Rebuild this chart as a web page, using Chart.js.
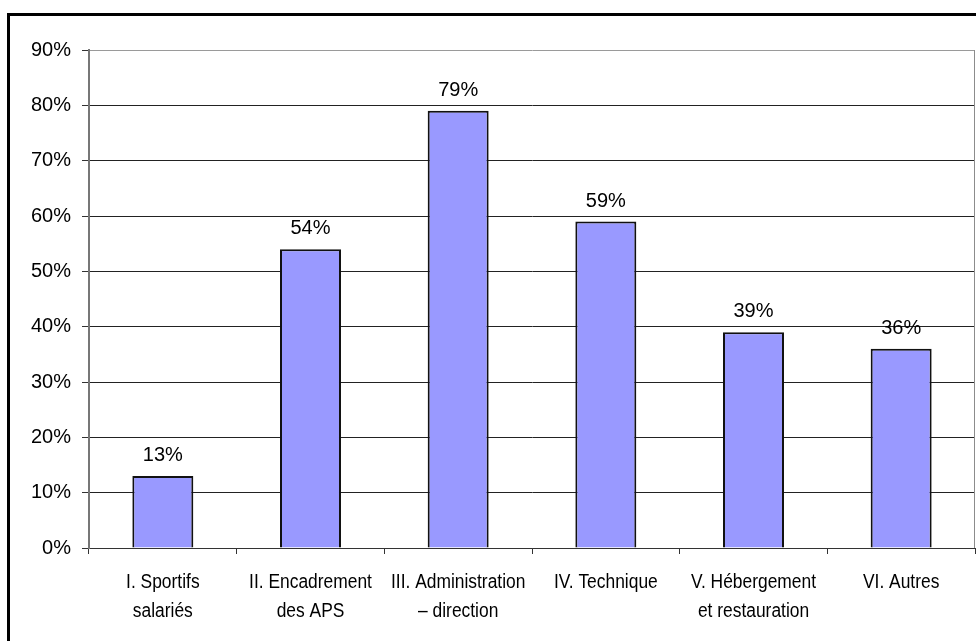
<!DOCTYPE html>
<html><head><meta charset="utf-8">
<script src="https://cdn.jsdelivr.net/npm/chart.js@4/dist/chart.umd.min.js"></script>
<style>html,body{margin:0;padding:0;background:#fff}#wrap{width:976px;height:641px;position:relative}</style>
</head><body><div id="wrap"><canvas id="c" width="976" height="641"></canvas></div>
<script>
const categories = [["I. Sportifs","salariés"],["II. Encadrement","des APS"],["III. Administration","– direction"],["IV. Technique"],["V. Hébergement","et restauration"],["VI. Autres"]];
const values = [13, 54, 79, 59, 39, 36];
const yMin = 0, yMax = 90, yStep = 10;
const FONT = "'Liberation Sans', Arial, sans-serif";

const framePlugin = {
  id: 'frame',
  afterDatasetsDraw(chart) {
    const ctx = chart.ctx;
    const meta = chart.getDatasetMeta(0);
    ctx.save();
    ctx.fillStyle = '#000';
    ctx.font = '20px ' + FONT;
    ctx.textAlign = 'center';
    ctx.textBaseline = 'alphabetic';
    meta.data.forEach((bar, i) => {
      ctx.fillText(values[i] + '%', bar.x, bar.y - 15);
    });
    ctx.restore();
  },
  afterDraw(chart) {
    const ctx = chart.ctx, a = chart.chartArea;
    const xs = chart.scales.x;
    ctx.save();
    // condensed category labels
    ctx.fillStyle = '#000';
    ctx.font = '20px ' + FONT;
    ctx.textAlign = 'center';
    ctx.textBaseline = 'alphabetic';
    const sx = 0.87;
    categories.forEach((lines, i) => {
      const px = xs.getPixelForValue(i);
      lines.forEach((t, j) => {
        ctx.save();
        ctx.translate(px, a.bottom + 40 + j * 29);
        ctx.scale(sx, 1);
        ctx.fillText(t, 0, 0);
        ctx.restore();
      });
    });
    ctx.strokeStyle = '#8c8c8c';
    ctx.lineWidth = 1;
    ctx.beginPath();
    ctx.moveTo(a.right - 0.5, a.top);
    ctx.lineTo(a.right - 0.5, a.bottom);
    ctx.stroke();
    ctx.fillStyle = '#000';
    ctx.fillRect(7, 13, 969, 3);
    ctx.fillRect(7, 13, 3, 628);
    ctx.restore();
  }
};

new Chart(document.getElementById('c'), {
  type: 'bar',
  data: {
    labels: categories,
    datasets: [{
      data: values,
      backgroundColor: '#9999FF',
      borderColor: '#111',
      borderWidth: 2,
      barPercentage: 0.413,
      categoryPercentage: 1.0
    }]
  },
  options: {
    responsive: false,
    animation: false,
    devicePixelRatio: 1,
    layout: { padding: { top: 50, left: 0, right: 1, bottom: 0 } },
    plugins: { legend: { display: false }, tooltip: { enabled: false } },
    scales: {
      x: {
        afterFit(s) { s.height = 93; },
        grid: { offset: true, drawOnChartArea: false, drawTicks: true, tickLength: 6, color: '#333' },
        border: { display: true, color: '#333', width: 1 },
        ticks: { display: false }
      },
      y: {
        min: yMin, max: yMax,
        afterFit(s) { s.width = 89; },
        grid: {
          color: (c) => (c.tick && c.tick.value === yMax) ? '#9a9a9a' : '#222',
          tickColor: '#333',
          tickLength: 7,
          lineWidth: 1
        },
        border: { display: true, color: '#777', width: 2 },
        ticks: { stepSize: yStep, color: '#000', padding: 11, font: { family: FONT, size: 20 }, callback: (v) => v + '%' }
      }
    }
  },
  plugins: [framePlugin]
});
</script></body></html>
